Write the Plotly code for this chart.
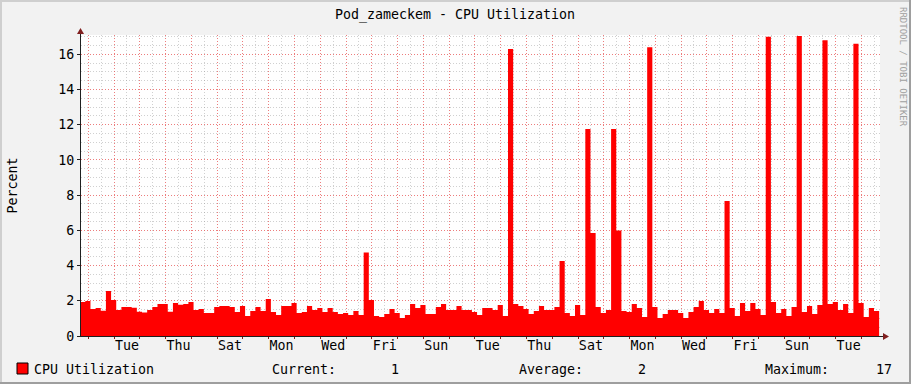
import numpy as np
import plotly.graph_objects as go

# ---------------- data ----------------
TITLE = "Pod_zameckem - CPU Utilization"
SERIES_NAME = "CPU Utilization"
Y_TITLE = "Percent"
WATERMARK = "RRDTOOL / TOBI OETIKER"

# day-name labels (one every second day, centred at noon)
DAY_LABELS = ["Tue", "Thu", "Sat", "Mon", "Wed", "Fri", "Sun", "Tue",
              "Thu", "Sat", "Mon", "Wed", "Fri", "Sun", "Tue"]

# CPU utilisation (%) per consolidated step (4.8 h), oldest first
CPU = [
    1.93, 1.99, 1.53, 1.59, 1.44, 2.56, 2.05, 1.48, 1.65, 1.65,
    1.60, 1.38, 1.33, 1.48, 1.65, 1.82, 1.82, 1.38, 1.87, 1.78,
    1.82, 1.93, 1.48, 1.53, 1.31, 1.31, 1.65, 1.70, 1.70, 1.65,
    1.36, 1.70, 1.14, 1.42, 1.65, 1.42, 2.10, 1.36, 1.19, 1.70,
    1.70, 1.87, 1.31, 1.36, 1.70, 1.48, 1.59, 1.36, 1.59, 1.36,
    1.25, 1.31, 1.19, 1.42, 1.19, 4.75, 2.05, 1.14, 1.08, 1.25,
    1.53, 1.31, 1.02, 1.19, 1.82, 1.59, 1.76, 1.25, 1.25, 1.65,
    1.82, 1.48, 1.48, 1.70, 1.48, 1.48, 1.36, 1.19, 1.59, 1.59,
    1.48, 1.76, 1.14, 16.30, 1.82, 1.70, 1.53, 1.25, 1.42, 1.70,
    1.48, 1.48, 1.65, 4.26, 1.31, 1.14, 1.76, 1.19, 11.76, 5.85,
    1.65, 1.30, 1.48, 11.76, 6.00, 1.42, 1.36, 1.82, 1.59, 1.08,
    16.40, 1.65, 1.02, 1.25, 1.48, 1.48, 1.31, 1.02, 1.36, 1.65,
    1.99, 1.48, 1.31, 1.53, 1.31, 7.67, 1.59, 1.14, 1.87, 1.42,
    1.87, 1.53, 1.19, 17.00, 1.93, 1.31, 1.53, 1.14, 1.65, 17.05,
    1.36, 1.70, 1.25, 1.76, 16.80, 1.82, 1.93, 1.48, 1.82, 1.31,
    16.60, 1.87, 1.08, 1.59, 1.42,
]

# time base (days since the left edge of the graph)
STEP_DAYS = 0.2          # consolidation step
FIRST_STEP_START = -0.033
FIRST_MIDNIGHT = 0.283   # Monday 00:00
SPAN_DAYS = 31.0
Y_MAX = 17.1
Y_MAJOR = 2.0
Y_MINOR = 0.5

# ---------------- derived ----------------
vals = np.array(CPU)
n = len(vals)
x_edges = FIRST_STEP_START + STEP_DAYS * np.arange(n + 1)
y_steps = np.append(vals, vals[-1])
label_pos = FIRST_MIDNIGHT + 1.5 + 2 * np.arange(len(DAY_LABELS))
noon_pos = FIRST_MIDNIGHT - 0.5 + np.arange(int(SPAN_DAYS) + 2)
y_minor = [v for v in np.arange(0, Y_MAX, Y_MINOR)
           if abs(v / Y_MAJOR - round(v / Y_MAJOR)) > 1e-9]

current = vals[-1]
average = vals.mean()
maximum = vals.max()

# ---------------- styling ----------------
FONT = "DejaVu Sans Mono"
BACK = "#F2F2F2"
SHADEA = "#CFCFCF"
SHADEB = "#9E9E9E"
GRID = "rgba(143,143,143,0.42)"
MGRID = "rgba(230,70,70,0.7)"
ARROW = "#801F1F"
AXIS = "#1F1F1F"
DASH = "1px,2px"

W, H = 911, 384
L, R, T, B = 81, 31, 35, 48
PW, PH = W - L - R, H - T - B


def px(xp):
    return (xp - L) / PW


def py(yp):
    return (H - B - yp) / PH


fig = go.Figure()
fig.add_trace(go.Scatter(
    x=x_edges, y=y_steps, mode="lines", line=dict(width=0, color="#FF0000"),
    line_shape="hv", fill="tozeroy", fillcolor="#FF0000",
    name=SERIES_NAME, showlegend=False, hoverinfo="skip"))
# carrier for the day-name label axis
fig.add_trace(go.Scatter(x=[], y=[], xaxis="x2", yaxis="y",
                         showlegend=False, hoverinfo="skip"))

fig.update_layout(
    width=W, height=H,
    margin=dict(l=L, r=R, t=T, b=B, pad=0),
    paper_bgcolor=BACK, plot_bgcolor="#FFFFFF",
    font=dict(family=FONT, size=13.3, color="#000000"),
    showlegend=False,
    title=dict(text=TITLE, x=455 / W, xref="container", xanchor="center",
               y=1 - 14 / H, yref="container", yanchor="middle",
               font=dict(family=FONT, size=13.3, color="#000000")),
    xaxis=dict(
        range=[0, SPAN_DAYS], tickmode="linear", tick0=FIRST_MIDNIGHT, dtick=1,
        showgrid=True, gridcolor=MGRID, griddash=DASH, gridwidth=1,
        showticklabels=False, ticks="outside", ticklen=2, tickcolor=ARROW,
        showline=True, linecolor=AXIS, linewidth=1, zeroline=False,
        minor=dict(tickmode="array", tickvals=noon_pos, showgrid=True,
                   gridcolor=GRID, griddash=DASH, gridwidth=1, ticks=""),
    ),
    xaxis2=dict(
        overlaying="x", anchor="y", side="bottom", range=[0, SPAN_DAYS],
        tickmode="array", tickvals=label_pos, ticktext=DAY_LABELS,
        showgrid=False, ticks="", showline=False, zeroline=False,
        tickfont=dict(family=FONT, size=13.3, color="#000000"),
    ),
    yaxis=dict(
        range=[0, Y_MAX], tickmode="linear", tick0=0, dtick=Y_MAJOR,
        showgrid=True, gridcolor=MGRID, griddash=DASH, gridwidth=1,
        ticks="outside", ticklen=3, tickcolor=AXIS,
        showline=True, linecolor=AXIS, linewidth=1, zeroline=False,
        tickfont=dict(family=FONT, size=13.3, color="#000000"),
        minor=dict(tickmode="array", tickvals=y_minor, showgrid=True,
                   gridcolor=GRID, griddash=DASH, gridwidth=1, ticks=""),
    ),
)

shapes = [
    # 3-D frame
    dict(type="line", x0=px(0), x1=px(W), y0=py(1), y1=py(1),
         line=dict(color=SHADEA, width=2)),
    dict(type="line", x0=px(1), x1=px(1), y0=py(0), y1=py(H),
         line=dict(color=SHADEA, width=2)),
    dict(type="line", x0=px(0), x1=px(W), y0=py(H - 1), y1=py(H - 1),
         line=dict(color=SHADEB, width=2)),
    dict(type="line", x0=px(W - 1), x1=px(W - 1), y0=py(0), y1=py(H),
         line=dict(color=SHADEB, width=2)),
    # axis extensions + arrows
    dict(type="line", x0=px(880), x1=px(884), y0=py(336.5), y1=py(336.5),
         line=dict(color=AXIS, width=1)),
    dict(type="line", x0=px(80.5), x1=px(80.5), y0=py(35), y1=py(32),
         line=dict(color=AXIS, width=1)),
    dict(type="path",
         path=f"M {px(883)} {py(333)} L {px(883)} {py(340)} L {px(889)} {py(336.5)} Z",
         fillcolor=ARROW, line=dict(width=0)),
    dict(type="path",
         path=f"M {px(77)} {py(34)} L {px(84)} {py(34)} L {px(80.5)} {py(28)} Z",
         fillcolor=ARROW, line=dict(width=0)),
    # legend swatch
    dict(type="rect", x0=px(17), x1=px(28), y0=py(363), y1=py(374),
         fillcolor="#FF0000", line=dict(color="#000000", width=1)),
]
for s in shapes:
    s.update(xref="paper", yref="paper", layer="above")
fig.update_layout(shapes=shapes)


def ann(text, x, y, xanchor="left", angle=0, size=13.3, color="#000000"):
    return dict(text=text, x=px(x), y=py(y), xref="paper", yref="paper",
                xanchor=xanchor, yanchor="middle", showarrow=False,
                textangle=angle, font=dict(family=FONT, size=size, color=color))


LEG_Y = 369
annotations = [
    ann(Y_TITLE, 12, 185.5, xanchor="center", angle=-90),
    ann(WATERMARK, 903, 67, xanchor="center", angle=90, size=9, color="#A0A0A0"),
    ann(SERIES_NAME, 32, LEG_Y),
    ann("Current:", 270, LEG_Y),
    ann(f"{current:.0f}", 401, LEG_Y, xanchor="right"),
    ann("Average:", 517, LEG_Y),
    ann(f"{average:.0f}", 648, LEG_Y, xanchor="right"),
    ann("Maximum:", 763, LEG_Y),
    ann(f"{maximum:.0f}", 894, LEG_Y, xanchor="right"),
]
fig.update_layout(annotations=annotations)

fig.write_html("out.html")
